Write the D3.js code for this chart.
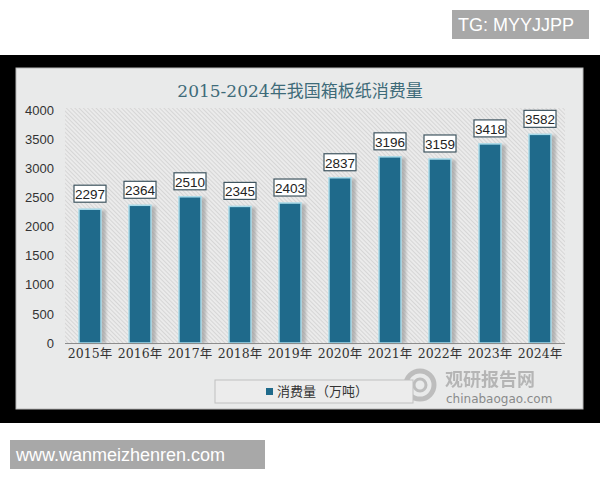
<!DOCTYPE html>
<html><head><meta charset="utf-8">
<script src="https://cdn.jsdelivr.net/npm/d3@7"></script>
<style>body{margin:0;background:#fff}svg{display:block}</style>
</head><body>
<script>
const years = ["2015年","2016年","2017年","2018年","2019年","2020年","2021年","2022年","2023年","2024年"];
const values = [2297,2364,2510,2345,2403,2837,3196,3159,3418,3582];
const yTicks = [0,500,1000,1500,2000,2500,3000,3500,4000];
const title = "2015-2024年我国箱板纸消费量";
const seriesName = "消费量（万吨）";

const W = 600, H = 480;
const svg = d3.select("body").append("svg").attr("width", W).attr("height", H);
const defs = svg.append("defs");
const pat = defs.append("pattern").attr("id","hatch").attr("patternUnits","userSpaceOnUse")
  .attr("width",3).attr("height",3).attr("patternTransform","rotate(-45)");
pat.append("rect").attr("width",3).attr("height",3).attr("fill","#ebebeb");
pat.append("line").attr("x1",0).attr("y1",0).attr("x2",0).attr("y2",3).attr("stroke","#c6c6c6").attr("stroke-width",1.1);
const blur = defs.append("filter").attr("id","sh").attr("x","-50%").attr("y","-10%").attr("width","200%").attr("height","120%");
blur.append("feGaussianBlur").attr("stdDeviation",1.5);

// watermark boxes
svg.append("rect").attr("x",452).attr("y",10).attr("width",137).attr("height",29).attr("fill","#a8a8a8");
svg.append("text").attr("x",458).attr("y",31).attr("fill","#fff").attr("font-family","Liberation Sans, Arial, sans-serif").attr("font-size",18).text("TG: MYYJJPP");

// black frame
svg.append("rect").attr("x",0).attr("y",55).attr("width",600).attr("height",368).attr("fill","#000");
// panel
svg.append("rect").attr("x",16).attr("y",68).attr("width",567).attr("height",341).attr("fill","#e9eaea").attr("stroke","#b8b8b8");

svg.append("rect").attr("x",10).attr("y",440).attr("width",255).attr("height",29).attr("fill","#a8a8a8");
svg.append("text").attr("x",16).attr("y",461).attr("fill","#fff").attr("font-family","Liberation Sans, Arial, sans-serif").attr("font-size",18).text("www.wanmeizhenren.com");

// title
svg.append("text").attr("x",300).attr("y",97).attr("text-anchor","middle")
  .attr("font-family","DejaVu Serif, 'Noto Sans CJK SC', serif").attr("font-size",17)
  .attr("fill","#3e6b79").text(title);

const x = d3.scaleBand().domain(years).range([65,565]).paddingInner(0.56).paddingOuter(0.28);
const y = d3.scaleLinear().domain([0,4000]).range([343,110]);

// hatched plot bg
svg.append("rect").attr("x",65).attr("y",108).attr("width",500).attr("height",235).attr("fill","url(#hatch)");

// y axis labels
const yAxis = d3.axisLeft(y).tickValues(yTicks).tickSize(0).tickPadding(0).tickFormat(d3.format("d"));
const ga = svg.append("g").attr("transform","translate(54,0)").call(yAxis);
ga.select(".domain").remove();
ga.selectAll("text").attr("font-family","Liberation Sans, Arial, sans-serif").attr("font-size",13).attr("fill","#333");

// bars shadow
svg.append("g").selectAll("rect").data(values).join("rect")
  .attr("x",(d,i)=>x(years[i])+3).attr("y",d=>y(d)+1)
  .attr("width",x.bandwidth()+2).attr("height",d=>343-y(d)-1)
  .attr("fill","#8a8a8a").attr("opacity",0.55).attr("filter","url(#sh)");
// bars
svg.append("g").selectAll("rect").data(values).join("rect")
  .attr("x",(d,i)=>x(years[i])).attr("y",d=>y(d))
  .attr("width",x.bandwidth()).attr("height",d=>343-y(d))
  .attr("fill","#1f6a8b").attr("stroke","#a9dbea").attr("stroke-width",1.5);

// x axis line
svg.append("line").attr("x1",65).attr("x2",565).attr("y1",343.5).attr("y2",343.5).attr("stroke","#8c8c8c").attr("stroke-width",1.2);

// x labels
const xAxis = d3.axisBottom(x).tickSize(0).tickPadding(0);
const gx = svg.append("g").attr("transform","translate(0,349)").call(xAxis);
gx.select(".domain").remove();
gx.selectAll("text").attr("font-family","DejaVu Serif, 'Noto Sans CJK SC', serif").attr("font-size",12.5).attr("fill","#333");

// value labels
const lbl = svg.append("g").selectAll("g").data(values).join("g")
  .attr("transform",(d,i)=>`translate(${x(years[i])+x.bandwidth()/2},${y(d)-15})`);
lbl.append("rect").attr("x",-16).attr("y",-9).attr("width",32).attr("height",17)
  .attr("fill","#fff").attr("stroke","#3f5560").attr("stroke-width",1.2);
lbl.append("text").attr("text-anchor","middle").attr("dy","0.36em")
  .attr("font-family","Liberation Sans, Arial, sans-serif").attr("font-size",13.5).attr("fill","#222").text(d=>d);

// watermark logo
const wm = svg.append("g").attr("opacity",0.45);
wm.append("circle").attr("cx",420).attr("cy",385).attr("r",14).attr("fill","none").attr("stroke","#888").attr("stroke-width",5);
wm.append("circle").attr("cx",420).attr("cy",385).attr("r",6).attr("fill","none").attr("stroke","#888").attr("stroke-width",3);
wm.append("text").attr("x",445).attr("y",386).attr("font-family","'Noto Sans CJK SC', sans-serif").attr("font-weight","bold").attr("font-size",18).attr("fill","#777").text("观研报告网");
svg.append("text").attr("x",446).attr("y",403).attr("font-family","DejaVu Sans, sans-serif").attr("font-size",12).attr("fill","#8a8a8a").text("chinabaogao.com");

// legend
svg.append("rect").attr("x",215).attr("y",380).attr("width",198).attr("height",23).attr("fill","#ececec").attr("stroke","#c0c0c0");
svg.append("rect").attr("x",266).attr("y",388).attr("width",7).attr("height",7).attr("fill","#1f6a8b");
svg.append("text").attr("x",277).attr("y",396).attr("font-family","'Noto Sans CJK SC', serif").attr("font-size",13).attr("fill","#333").text(seriesName);
</script>
</body></html>
